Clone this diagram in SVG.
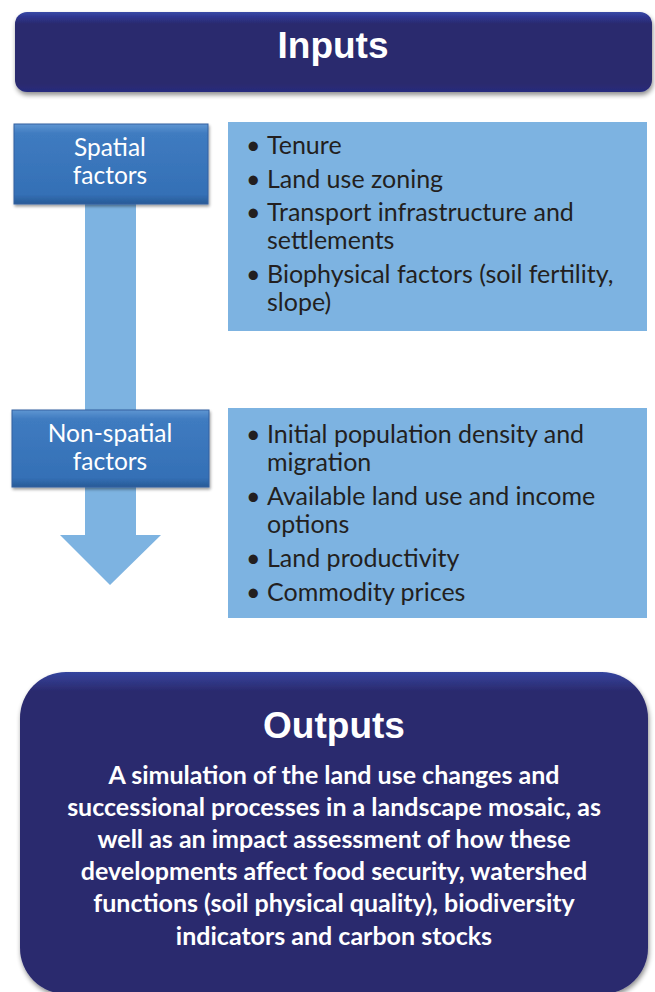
<svg xmlns="http://www.w3.org/2000/svg" width="655" height="992" viewBox="0 0 655 992">
<defs>
<linearGradient id="navy" x1="0" y1="0" x2="0" y2="1">
<stop offset="0" stop-color="#3a4aa6"/>
<stop offset="0.06" stop-color="#2e3590"/>
<stop offset="0.15" stop-color="#2b2a6e"/>
<stop offset="0.9" stop-color="#2b2a6e"/>
<stop offset="1" stop-color="#262c7e"/>
</linearGradient>
<linearGradient id="navy2" x1="0" y1="0" x2="0" y2="1">
<stop offset="0" stop-color="#34449e"/>
<stop offset="0.06" stop-color="#2b2a6e"/>
<stop offset="1" stop-color="#2b2a6e"/>
</linearGradient>
<linearGradient id="blue" x1="0" y1="0" x2="0" y2="1">
<stop offset="0" stop-color="#5f96d2"/>
<stop offset="0.12" stop-color="#3f7bc0"/>
<stop offset="0.88" stop-color="#3470b6"/>
<stop offset="1" stop-color="#285a96"/>
</linearGradient>
<filter id="sh" x="-5%" y="-10%" width="110%" height="130%">
<feGaussianBlur in="SourceAlpha" stdDeviation="2.5"/>
<feOffset dx="1" dy="3" result="b"/>
<feComponentTransfer><feFuncA type="linear" slope="0.45"/></feComponentTransfer>
<feMerge><feMergeNode/><feMergeNode in="SourceGraphic"/></feMerge>
</filter>
<filter id="sh2" x="-5%" y="-10%" width="110%" height="130%">
<feGaussianBlur in="SourceAlpha" stdDeviation="1.5"/>
<feOffset dx="1" dy="2" result="b"/>
<feComponentTransfer><feFuncA type="linear" slope="0.4"/></feComponentTransfer>
<feMerge><feMergeNode/><feMergeNode in="SourceGraphic"/></feMerge>
</filter>
</defs>
<style>
.head{font-family:"Liberation Sans",Arial,sans-serif;font-weight:bold;fill:#fff;text-anchor:middle}
.lbl{font-family:Lato,"Open Sans",sans-serif;font-size:24.5px;fill:#fff;text-anchor:middle}
.bul{font-family:Lato,"Open Sans",sans-serif;font-size:25px;fill:#231f20}
.out{font-family:Lato,"Open Sans",sans-serif;font-weight:bold;font-size:25px;fill:#fff;text-anchor:middle}
.lb{fill:#7db3e1}
</style>
<rect width="655" height="992" fill="#fff"/>
<g id="inputs">
<rect x="15" y="12" width="637" height="80" rx="12" fill="url(#navy)" filter="url(#sh)"/>
<text class="head" x="333" y="58" font-size="37">Inputs</text>
</g>
<g id="connectors">
<path class="lb" d="M85 204 H136 V535 H161 L110 585 L60 535 H85 Z"/>
</g>
<g id="spatial">
<rect x="14" y="124" width="194" height="80" fill="url(#blue)" stroke="#3560a0" stroke-width="1" filter="url(#sh2)"/>
<text class="lbl" x="110" y="156">Spatial</text>
<text class="lbl" x="110" y="184">factors</text>
</g>
<g id="spatial-list">
<rect class="lb" x="228" y="122" width="419" height="209"/>
<text class="bul" x="246" y="154">•</text><text class="bul" x="267" y="154">Tenure</text>
<text class="bul" x="246" y="188">•</text><text class="bul" x="267" y="188">Land use zoning</text>
<text class="bul" x="246" y="221">•</text><text class="bul" x="267" y="221">Transport infrastructure and</text>
<text class="bul" x="267" y="249">settlements</text>
<text class="bul" x="246" y="283">•</text><text class="bul" x="267" y="283">Biophysical factors (soil fertility,</text>
<text class="bul" x="267" y="311">slope)</text>
</g>
<g id="nonspatial">
<rect x="12" y="410" width="197" height="77" fill="url(#blue)" stroke="#3560a0" stroke-width="1" filter="url(#sh2)"/>
<text class="lbl" x="110" y="442">Non-spatial</text>
<text class="lbl" x="110" y="470">factors</text>
</g>
<g id="nonspatial-list">
<rect class="lb" x="228" y="408" width="419" height="210"/>
<text class="bul" x="246" y="443">•</text><text class="bul" x="267" y="443">Initial population density and</text>
<text class="bul" x="267" y="471">migration</text>
<text class="bul" x="246" y="505">•</text><text class="bul" x="267" y="505">Available land use and income</text>
<text class="bul" x="267" y="533">options</text>
<text class="bul" x="246" y="567">•</text><text class="bul" x="267" y="567">Land productivity</text>
<text class="bul" x="246" y="601">•</text><text class="bul" x="267" y="601">Commodity prices</text>
</g>
<g id="outputs">
<rect x="20" y="672" width="628" height="322" rx="46" fill="url(#navy2)" filter="url(#sh)"/>
<text class="head" x="334" y="738" font-size="37">Outputs</text>
<text class="out" x="334" y="784">A simulation of the land use changes and</text>
<text class="out" x="334" y="816">successional processes in a landscape mosaic, as</text>
<text class="out" x="334" y="848">well as an impact assessment of how these</text>
<text class="out" x="334" y="880">developments affect food security, watershed</text>
<text class="out" x="334" y="912">functions (soil physical quality), biodiversity</text>
<text class="out" x="334" y="945">indicators and carbon stocks</text>
</g>
</svg>
